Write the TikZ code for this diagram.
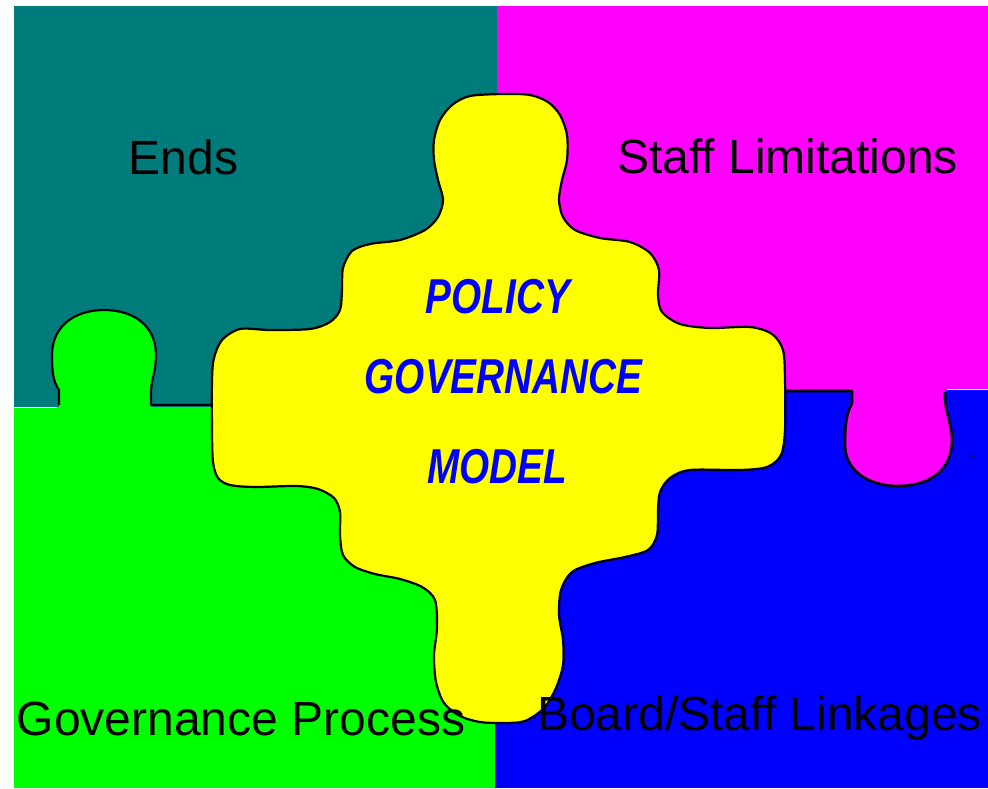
\documentclass[tikz,border=0pt]{standalone}
\usepackage{fontspec}
\setmainfont{Liberation Sans}
\usepackage{graphicx}
\definecolor{pteal}{HTML}{007B7B}
\definecolor{pmag}{HTML}{FF00FF}
\definecolor{pgreen}{HTML}{00FF00}
\definecolor{pblue}{HTML}{0000FF}
\definecolor{pyellow}{HTML}{FFFF00}
\begin{document}
\begin{tikzpicture}[x=1pt,y=-1pt,
  outl/.style={draw=black, line width=2.2pt, line join=round},
  lbl/.style={font=\fontsize{48}{55}\selectfont, inner sep=0pt, anchor=base, text=black},
  ptitle/.style={font=\bfseries\itshape\fontsize{49}{55}\selectfont, text=pblue, inner sep=0pt, anchor=base}]
\useasboundingbox (0,0) rectangle (988,789);
\fill[white] (0,0) rectangle (988,789);
% quadrants
\fill[pteal] (14,6) rectangle (497,407);
\fill[pmag] (497,6) rectangle (988,390);
\fill[pgreen] (14,407) rectangle (495,788);
\fill[pblue] (495,390) rectangle (988,788);
% green knob into teal
\fill[pgreen] (59,408) -- (59,390) .. controls (53,381) and (52,372) .. (52,355)
  .. controls (52,326) and (75,310) .. (104,310)
  .. controls (134,310) and (156,326) .. (156,355)
  .. controls (156,372) and (151,380) .. (151,392) -- (151,408) -- cycle;
\draw[outl] (59,405) -- (59,390) .. controls (53,381) and (52,372) .. (52,355)
  .. controls (52,326) and (75,310) .. (104,310)
  .. controls (134,310) and (156,326) .. (156,355)
  .. controls (156,372) and (151,380) .. (151,392) -- (151,405) -- (214,405);
\draw[white, line width=1pt] (14,407.5) -- (57,407.5);
% magenta knob into blue
\fill[pmag] (852,389) -- (852,403) .. controls (846,415) and (845,425) .. (845,445)
  .. controls (845,470) and (868,486) .. (898,486)
  .. controls (930,486) and (952,470) .. (952,440)
  .. controls (952,425) and (945,410) .. (945,398) -- (945,389) -- cycle;
\draw[outl, line width=2.6pt] (783,391) -- (852,391) -- (852,403) .. controls (846,415) and (845,425) .. (845,445)
  .. controls (845,470) and (868,486) .. (898,486)
  .. controls (930,486) and (952,470) .. (952,440)
  .. controls (952,425) and (945,410) .. (945,398) -- (945,392);
\draw[white, line width=1pt] (947,389.5) -- (988,389.5);
\fill[black] (972,455) rectangle (974,457);
% yellow centre piece
\path[fill=pyellow, outl] plot[smooth cycle, tension=0.5] coordinates {
 (504,94) (530,95) (548,102) (560,115) (567,135) (567,160) (562,180) (559,200)
 (563,217) (575,230) (600,238) (630,242) (650,253) (659,270) (658,295) (662,312)
 (680,324) (710,328) (750,327) (772,334) (783,350) (785,380) (785,430) (781,455)
 (767,467) (740,470) (690,470) (670,478) (660,492) (658,510) (657,535) (648,550)
 (625,557) (595,563) (572,572) (561,590) (559,615) (563,640) (563,665) (556,688)
 (544,708) (525,721) (504,723) (480,722) (460,716) (444,703) (436,682) (434,655)
 (437,628) (435,600) (422,587) (400,579) (375,574) (355,567) (343,555) (340,535)
 (340,512) (334,498) (318,489) (296,486) (255,487) (230,485) (218,478) (213,462)
 (212,430) (212,380) (214,358) (222,340) (240,329) (270,330) (310,329) (330,322)
 (340,310) (342,290) (343,268) (352,251) (370,244) (400,240) (425,230) (438,217)
 (443,200) (438,180) (434,160) (434,140) (440,120) (452,105) (470,96)};
% labels
\node[lbl] (ends) at (183.5,175) {Ends};
\node[lbl] (staff) at (787.5,173) {Staff Limitations};
\node[lbl] (gov) at (241,735) {Governance Process};
\node[lbl] (link) at (759.5,730) {Board/Staff Linkages};
\node[ptitle] (policy) at (498,313) {\scalebox{0.79}[1]{POLICY}};
\node[ptitle] (governance) at (503.5,393) {\scalebox{0.79}[1]{GOVERNANCE}};
\node[ptitle] (model) at (497.5,483) {\scalebox{0.79}[1]{MODEL}};
\end{tikzpicture}
\end{document}
